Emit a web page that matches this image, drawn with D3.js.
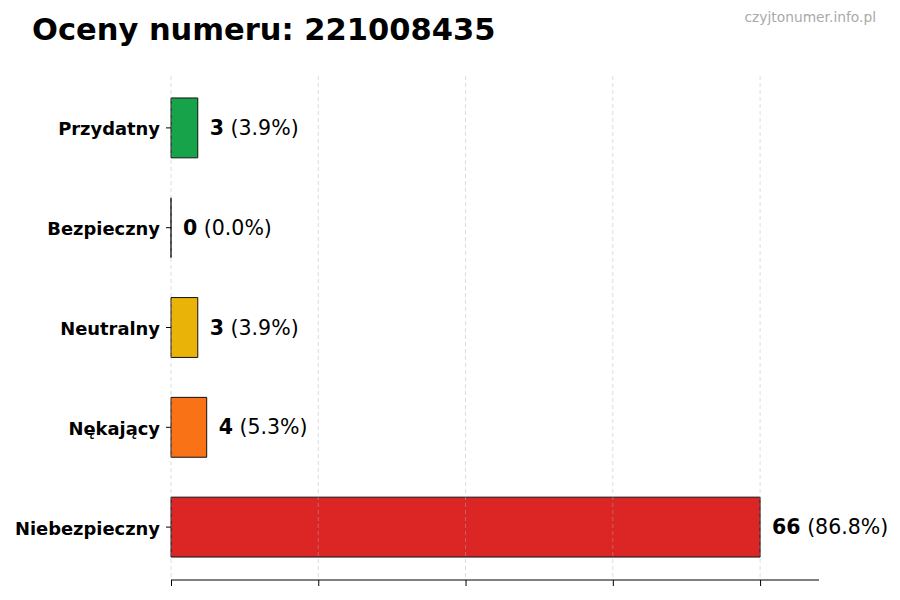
<!DOCTYPE html>
<html>
<head>
<meta charset="utf-8">
<script src="https://cdn.jsdelivr.net/npm/d3@7"></script>
<style>
  body { margin: 0; background: #fff; }
  svg { font-family: "DejaVu Sans", sans-serif; }
</style>
</head>
<body>
<div id="chart"></div>
<script>
// data
var categories = ["Przydatny", "Bezpieczny", "Neutralny", "Nękający", "Niebezpieczny"];
var counts = [3, 0, 3, 4, 66];
var percents = ["3.9%", "0.0%", "3.9%", "5.3%", "86.8%"];
var colors = ["#16a34a", "#2563eb", "#eab308", "#f97316", "#dc2626"];
var xTicks = [0, 16.5, 33, 49.5, 66];

var W = 900, H = 600,
    mLeft = 171, mRight = 819,
    mTop = 76, mBottom = 580;

var svg = d3.select("#chart").append("svg")
    .attr("width", W).attr("height", H);

var maxV = d3.max(counts);
var x = d3.scaleLinear().domain([0, maxV * 1.1]).range([mLeft, mRight]);

// bars 0.6 of a slot, with a little margin top and bottom
var y = d3.scaleBand().domain(categories).range([78, 577]).paddingInner(0.4).paddingOuter(0.2);

// bars as paths so a zero bar still shows its edge
svg.append("g").selectAll("path").data(categories).enter().append("path")
    .attr("d", function(d, i){
        var x0 = x(0), w = x(counts[i]) - x(0), y0 = y(d), h = y.bandwidth();
        return "M" + x0 + "," + y0 + "h" + w + "v" + h + "h" + (-w) + "Z";
    })
    .attr("fill", function(d, i){ return colors[i]; })
    .attr("stroke", "#111").attr("stroke-width", 1);

// grid, drawn over the bars (faint)
svg.append("g").selectAll("line").data(xTicks).enter().append("line")
    .attr("x1", function(d){ return x(d); }).attr("x2", function(d){ return x(d); })
    .attr("y1", mTop).attr("y2", mBottom)
    .attr("stroke", "#b0b0b0").attr("stroke-opacity", 0.55).attr("stroke-width", 0.8)
    .attr("stroke-dasharray", "4,3");

// value labels
var lab = svg.append("g").selectAll("text").data(categories).enter().append("text")
    .attr("x", function(d, i){ return x(counts[i]) + 12; })
    .attr("y", function(d){ return y(d) + y.bandwidth() / 2; })
    .attr("dy", "0.35em")
    .attr("font-size", 20.5)
    .attr("fill", "#000");
lab.append("tspan").attr("font-weight", "bold").text(function(d, i){ return counts[i]; });
lab.append("tspan").text(function(d, i){ return " (" + percents[i] + ")"; });

// y axis
var yAxis = svg.append("g").attr("transform", "translate(" + mLeft + ",0)")
    .call(d3.axisLeft(y).tickSize(5).tickPadding(6));
yAxis.select(".domain").remove();
yAxis.selectAll("text").attr("font-size", 17.9).attr("font-weight", "bold")
    .attr("fill", "#000").attr("font-family", "DejaVu Sans").attr("dy", "0.42em");
yAxis.selectAll("line").attr("stroke", "#000");

// x axis, no labels
var xAxis = svg.append("g").attr("transform", "translate(0," + mBottom + ")")
    .call(d3.axisBottom(x).tickValues(xTicks).tickSize(6).tickFormat(""));
xAxis.select(".domain").attr("d", "M" + mLeft + ",0H" + mRight).attr("stroke", "#000");
xAxis.selectAll("line").attr("stroke", "#000");

// title + watermark
svg.append("text").attr("x", 32).attr("y", 40)
    .attr("font-size", 30.5).attr("font-weight", "bold")
    .text("Oceny numeru: 221008435");
svg.append("text").attr("x", 876).attr("y", 22)
    .attr("text-anchor", "end").attr("font-size", 13.8).attr("fill", "#aaa")
    .text("czyjtonumer.info.pl");
</script>
</body>
</html>
